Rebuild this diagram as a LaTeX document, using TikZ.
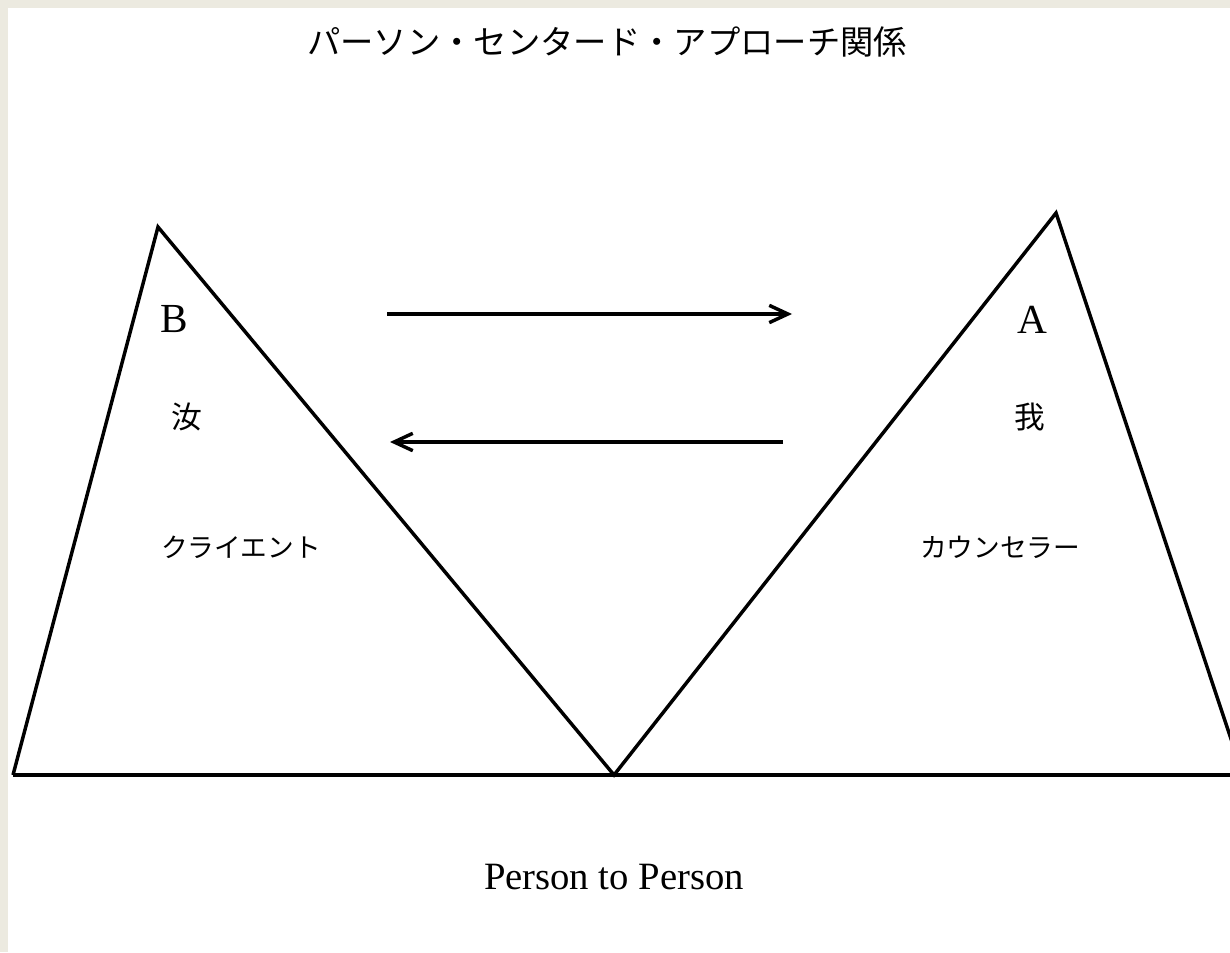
\documentclass[tikz,border=0pt]{standalone}
\usepackage{fontspec}
\setmainfont{Liberation Serif}
\newfontfamily\jpfont{Noto Sans CJK JP}
\definecolor{pagebg}{RGB}{236, 234, 224}
\usetikzlibrary{arrows.meta}

\begin{document}
\begin{tikzpicture}[
      x=0.75pt, y=-0.75pt,
      edge/.style={draw, line width=2.6pt, line join=miter},
      flow/.style={draw, line width=2.6pt, -{Straight Barb[length=14pt, width=13pt]}},
      titletext/.style={font=\jpfont\fontsize{25}{30}\selectfont},
      letter/.style={font=\fontsize{31}{36}\selectfont},
      kanji/.style={font=\jpfont\fontsize{23}{28}\selectfont},
      roletext/.style={font=\jpfont\fontsize{20}{24}\selectfont},
      caption/.style={font=\fontsize{29}{34}\selectfont}
    ]
      \useasboundingbox (0,0) rectangle (1230,952);
      \fill[pagebg] (0,0) rectangle (1230,952);
      \fill[white] (8,8) rectangle (1230,952);

      \node (title) [titletext] at (607,42) {パーソン・センタード・アプローチ関係};

      \coordinate (bl) at (13,775);
      \coordinate (btop) at (158,227);
      \coordinate (mid) at (614,775);
      \coordinate (atop) at (1056,213);
      \coordinate (br) at (1243,775);

      \draw[edge] (bl) -- (btop) -- (mid) -- (atop) -- (br);
      \draw[edge] (bl) -- (br);

      \node (b) [letter] at (174,319) {B};
      \node (you) [kanji] at (187,417) {汝};
      \node (client) [roletext] at (241,547) {クライエント};

      \node (a) [letter] at (1032,320) {A};
      \node (me) [kanji] at (1030,417) {我};
      \node (counselor) [roletext] at (1000,547) {カウンセラー};

      \coordinate (r1) at (387,314);
      \coordinate (r2) at (792,314);
      \coordinate (l1) at (783,442);
      \coordinate (l2) at (390,442);
      \draw[flow] (r1) -- (r2);
      \draw[flow] (l1) -- (l2);

      \node (ptp) [caption] at (614,877) {Person to Person};
    \end{tikzpicture}
\end{document}
